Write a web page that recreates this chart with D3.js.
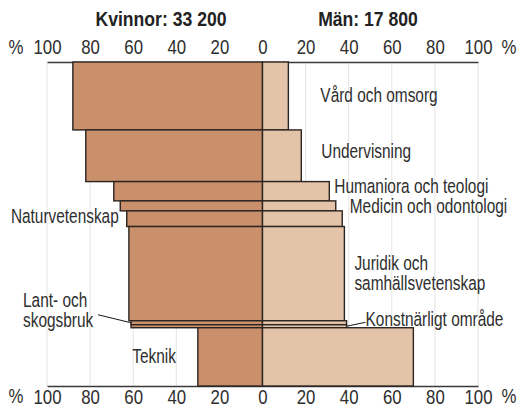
<!DOCTYPE html>
<html>
<head>
<meta charset="utf-8">
<script src="https://cdn.jsdelivr.net/npm/d3@7"></script>
<style>
  body { margin: 0; background: #fff; }
  svg { display: block; font-family: "Liberation Sans", Arial, sans-serif; }
</style>
</head>
<body>
<svg id="chart" width="519" height="408"></svg>
<script>
// utexaminerade per område, andel kvinnor / män i procent
const categories = ["Vård och omsorg", "Undervisning", "Humaniora och teologi", "Medicin och odontologi",
  "Naturvetenskap", "Juridik och samhällsvetenskap", "Lant- och skogsbruk", "Konstnärligt område", "Teknik"];
const graduates = [10700, 8140, 3040, 1570, 2470, 14840, 630, 470, 9180];
const womenPct = [88, 82, 69, 66, 63, 62, 61, 61, 30];
const menPct = [12, 18, 31, 34, 37, 38, 39, 39, 70];
const xTicks = [-100, -80, -60, -40, -20, 0, 20, 40, 60, 80, 100];
const titles = ["Kvinnor: 33 200", "Män: 17 800"];

const svg = d3.select('#chart');
const yTop = 62, yBottom = 386;
const ink = '#2e2e2e';

const x = d3.scaleLinear().domain([-100, 100]).range([47, 478]);
const total = d3.sum(graduates);
const y = d3.scaleLinear().domain([0, total]).range([yTop, yBottom]);
const starts = [0, ...d3.cumsum(graduates)];

const rows = categories.map((c, i) => ({
  name: c, y0: starts[i], y1: starts[i + 1], w: womenPct[i], m: menPct[i]
}));

// condensed look: scale text horizontally
function ntext(parent, px, py, str, size, sx, anchor) {
  return parent.append('g')
    .attr('transform', `translate(${px},${py}) scale(${sx},1)`)
    .append('text')
    .attr('text-anchor', anchor || 'start')
    .attr('font-size', size)
    .attr('fill', ink)
    .text(str);
}

// grid lines
svg.append('g')
  .selectAll('line')
  .data(xTicks.filter(d => d !== 0))
  .enter()
  .append('line')
  .attr('x1', d => x(d)).attr('x2', d => x(d))
  .attr('y1', yTop).attr('y2', yBottom)
  .attr('stroke', '#e4e4e4')
  .attr('stroke-width', 1);

// axes
const fmt = d => Math.abs(d);
function styleAxis(g) {
  g.select('.domain').attr('stroke', '#3a3a3a').attr('stroke-width', 1.3);
  g.selectAll('.tick text')
    .attr('font-size', 21)
    .attr('font-family', null)
    .attr('fill', ink)
    .attr('transform', 'scale(0.8,1)');
}
svg.append('g')
  .attr('transform', `translate(0,${yTop})`)
  .call(d3.axisTop(x).tickValues(xTicks).tickFormat(fmt).tickSize(0).tickPadding(8))
  .call(styleAxis);

svg.append('g')
  .attr('transform', `translate(0,${yBottom})`)
  .call(d3.axisBottom(x).tickValues(xTicks).tickFormat(fmt).tickSize(0).tickPadding(3))
  .call(styleAxis);

// % signs
[[16, 54], [509, 54], [16, 403], [509, 403]].forEach(([px, py]) => {
  ntext(svg, px, py, '%', 21, 0.8, 'middle');
});

// bars
const bars = svg.append('g');
bars.selectAll('rect.w')
  .data(rows)
  .enter()
  .append('rect')
  .attr('class', 'w')
  .attr('x', d => x(-d.w))
  .attr('y', d => y(d.y0))
  .attr('width', d => x(0) - x(-d.w))
  .attr('height', d => y(d.y1) - y(d.y0))
  .attr('fill', '#c9906b')
  .attr('stroke', '#2b2420')
  .attr('stroke-width', 1.4);

bars.selectAll('rect.m')
  .data(rows)
  .enter()
  .append('rect')
  .attr('class', 'm')
  .attr('x', x(0))
  .attr('y', d => y(d.y0))
  .attr('width', d => x(d.m) - x(0))
  .attr('height', d => y(d.y1) - y(d.y0))
  .attr('fill', '#e3c4a9')
  .attr('stroke', '#2b2420')
  .attr('stroke-width', 1.4);

// titles
ntext(svg, 161, 26, titles[0], 20, 0.88, 'middle').attr('font-weight', 'bold').attr('fill', '#222');
ntext(svg, 368, 26, titles[1], 20, 0.88, 'middle').attr('font-weight', 'bold').attr('fill', '#222');

// category labels: offset from the bar end (r = men side, l = women side)
const labelPos = [
  { side: 'r', dx: 32, dy: 6, anchor: 'start', lines: ['Vård och omsorg'] },
  { side: 'r', dx: 20, dy: 2, anchor: 'start', lines: ['Undervisning'] },
  { side: 'r', dx: 5, dy: 2, anchor: 'start', lines: ['Humaniora och teologi'] },
  { side: 'r', dx: 14, dy: 7, anchor: 'start', lines: ['Medicin och odontologi'] },
  { side: 'l', dx: -8, dy: 4, anchor: 'end', lines: ['Naturvetenskap'] },
  { side: 'r', dx: 10, dy: -4, anchor: 'start', lines: ['Juridik och', 'samhällsvetenskap'] },
  { side: 'l', dx: -108, dy: -16, anchor: 'start', lines: ['Lant- och', 'skogsbruk'], leader: [-33, -8] },
  { side: 'r', dx: 19, dy: 0, anchor: 'start', lines: ['Konstnärligt område'], leader: [19, -4] },
  { side: 'r', dx: -281, dy: 6, anchor: 'start', lines: ['Teknik'] }
];

const labels = svg.append('g');
rows.forEach((d, i) => {
  const p = labelPos[i];
  const ym = (y(d.y0) + y(d.y1)) / 2;
  const edge = p.side === 'r' ? x(d.m) : x(-d.w);
  p.lines.forEach((s, k) => {
    ntext(labels, edge + p.dx, ym + p.dy + k * 20, s, 19.5, 0.79, p.anchor);
  });
  if (p.leader) {
    svg.append('line')
      .attr('x1', edge).attr('y1', ym)
      .attr('x2', edge + p.leader[0]).attr('y2', ym + p.leader[1])
      .attr('stroke', '#222').attr('stroke-width', 1.1);
  }
});
</script>
</body>
</html>
